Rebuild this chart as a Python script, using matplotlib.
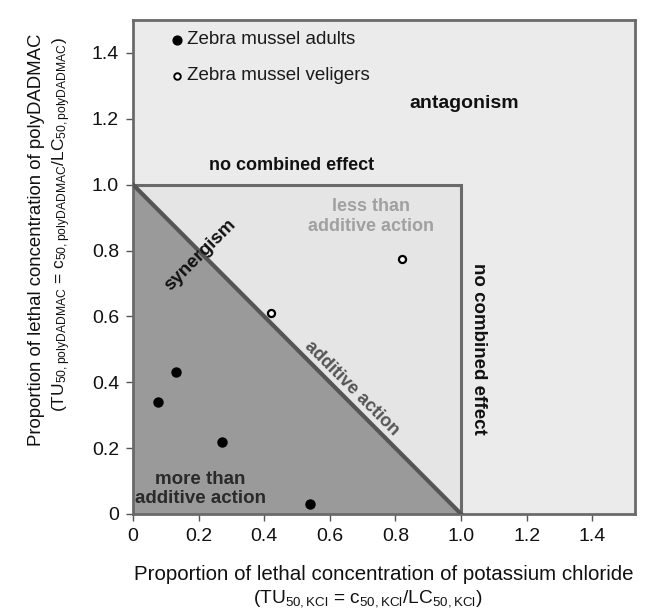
import matplotlib
matplotlib.use("Agg")
import matplotlib.pyplot as plt
from matplotlib.patches import Polygon, Rectangle

plt.rcParams['font.family'] = ['Liberation Sans', 'DejaVu Sans']
plt.rcParams['mathtext.fontset'] = 'custom'
plt.rcParams['mathtext.rm'] = 'Liberation Sans'
plt.rcParams['mathtext.it'] = 'Liberation Sans'

adults_x = [0.075, 0.13, 0.27, 0.54]
adults_y = [0.34, 0.43, 0.22, 0.03]
veligers_x = [0.42, 0.82]
veligers_y = [0.61, 0.775]
ticks = [0, 0.2, 0.4, 0.6, 0.8, 1.0, 1.2, 1.4]
tick_labels = ["0", "0.2", "0.4", "0.6", "0.8", "1.0", "1.2", "1.4"]

W, H = 652, 615
fig = plt.figure(figsize=(W/100, H/100), dpi=100)
ax = fig.add_axes([133/W, 1-514/H, (635-133)/W, (514-20)/H])
ax.set_xlim(0, 1.53)
ax.set_ylim(0, 1.5)
ax.set_facecolor('#ebebeb')
for s in ax.spines.values():
    s.set_color('#6a6a6a')
    s.set_linewidth(2)

ax.add_patch(Rectangle((0, 0), 1, 1, facecolor='#e5e5e5', edgecolor='#6a6a6a', lw=2.2, zorder=1))
ax.add_patch(Polygon([(0, 0), (0, 1), (1, 0)], closed=True, facecolor='#9a9a9a', edgecolor='none', zorder=2))
ax.plot([0, 1], [1, 0], color='#555555', lw=3, zorder=3)

ax.scatter(adults_x, adults_y, s=42, color='black', zorder=5)
ax.scatter(veligers_x, veligers_y, s=26, facecolor='white', edgecolor='black', linewidths=1.6, zorder=5)

# legend-like labels
ax.scatter([0.135], [1.44], s=40, color='black', zorder=5)
ax.scatter([0.135], [1.33], s=22, facecolor='white', edgecolor='black', linewidths=1.4, zorder=5)
ax.text(0.165, 1.44, "Zebra mussel adults", fontsize=13.5, va='center', ha='left', color='#1a1a1a')
ax.text(0.165, 1.33, "Zebra mussel veligers", fontsize=13.5, va='center', ha='left', color='#1a1a1a')

ax.text(1.01, 1.245, "antagonism", fontsize=14, fontweight='bold', ha='center', va='center', color='#111111')
ax.text(0.483, 1.058, "no combined effect", fontsize=13, fontweight='bold', ha='center', va='center', color='#111111')
ax.text(1.053, 0.5, "no combined effect", fontsize=13.5, fontweight='bold', ha='center', va='center',
        rotation=-90, color='#111111')
ax.text(0.725, 0.903, "less than\nadditive action", fontsize=13, fontweight='bold', ha='center', va='center',
        color='#a0a0a0', linespacing=1.2, zorder=4)
ax.text(0.205, 0.785, "synergism", fontsize=13.5, fontweight='bold', ha='center', va='center', rotation=45,
        color='#111111', zorder=4)
ax.text(0.668, 0.382, "additive action", fontsize=13, fontweight='bold', ha='center', va='center', rotation=-45,
        color='#555555', zorder=4)
ax.text(0.205, 0.076, "more than\nadditive action", fontsize=13.5, fontweight='bold', ha='center', va='center',
        color='#2a2a2a', linespacing=1.2, zorder=4)

ax.set_xticks(ticks)
ax.set_xticklabels(tick_labels)
ax.set_yticks(ticks)
ax.set_yticklabels(tick_labels)
ax.tick_params(direction='out', length=5, width=1, color='#555555', labelsize=14, pad=5,
               labelcolor='#111111')

fig.text(384/W, 1-574/H, "Proportion of lethal concentration of potassium chloride",
         fontsize=14.8, ha='center', va='center', color='#111111')
fig.text(368/W, 1-599/H,
         r"(TU$_{\mathrm{50,KCl}}$ = c$_{\mathrm{50,KCl}}$/LC$_{\mathrm{50,KCl}}$)",
         fontsize=13.8, ha='center', va='center', color='#111111')
fig.text(37/W, 1-240/H, "Proportion of lethal concentration of polyDADMAC",
         fontsize=13.4, ha='center', va='center', rotation=90, color='#111111')
fig.text(62/W, 1-225/H,
         r"(TU$_{\mathrm{50,polyDADMAC}}$ = c$_{\mathrm{50,polyDADMAC}}$/LC$_{\mathrm{50,polyDADMAC}}$)",
         fontsize=12.5, ha='center', va='center', rotation=90, color='#111111')

fig.savefig("out.png", dpi=100)
